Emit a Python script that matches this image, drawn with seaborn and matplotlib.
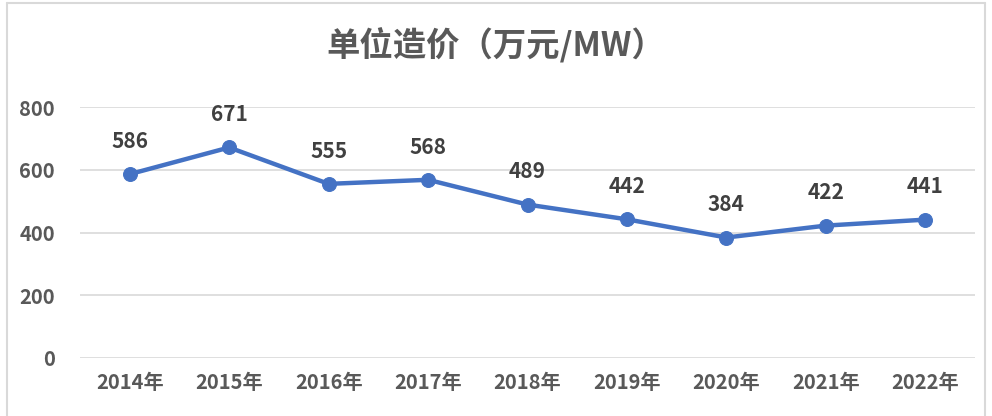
import matplotlib
matplotlib.use('Agg')
import matplotlib.pyplot as plt
import seaborn as sns
import pandas as pd
from matplotlib.lines import Line2D

years = ['2014年', '2015年', '2016年', '2017年', '2018年', '2019年', '2020年', '2021年', '2022年']
cost = [586, 671, 555, 568, 489, 442, 384, 422, 441]
title = '单位造价（万元/MW）'

df = pd.DataFrame({'year': years, 'cost': cost})

sns.set_theme(style='white')
plt.rcParams['font.family'] = ['Noto Sans CJK SC', 'DejaVu Sans']

fig = plt.figure(figsize=(9.92, 4.16), dpi=100)
ax = fig.add_axes([80 / 992, 1 - 358 / 416, 895 / 992, 251 / 416])

x = list(range(len(years)))
sns.lineplot(x=x, y=df['cost'], ax=ax, color='#4472C4', linewidth=3.2,
             marker='o', markersize=10, markeredgecolor='#4472C4')

for xi, v in zip(x, cost):
    ax.annotate(str(v), (xi, v), xytext=(0, 16), textcoords='offset points',
                ha='center', va='bottom', fontsize=15, fontweight='bold', color='#404040')

ax.set_xlim(-0.5, len(years) - 0.5)
ax.set_ylim(0, 800)
ax.set_yticks([0, 200, 400, 600, 800])
ax.set_xticks(x)
ax.set_xticklabels(years)
ax.set_xlabel('')
ax.set_ylabel('')
ax.grid(axis='y', color='#d9d9d9', linewidth=1.2)
ax.set_axisbelow(True)
for s in ax.spines.values():
    s.set_visible(False)
ax.tick_params(axis='both', length=0, labelsize=14.5, labelcolor='#595959')
ax.tick_params(axis='y', pad=18)
ax.tick_params(axis='x', pad=10)
for lbl in ax.get_xticklabels() + ax.get_yticklabels():
    lbl.set_fontweight('bold')

fig.text(0.5, 1 - 46 / 416, title, ha='center', va='center', fontsize=24,
         fontweight='bold', color='#595959')

# outer chart border
bc = '#d9d9d9'
fig.add_artist(Line2D([7 / 992, 7 / 992], [0, 1 - 3 / 416], transform=fig.transFigure, color=bc, lw=1.5))
fig.add_artist(Line2D([7 / 992, 985 / 992], [1 - 3 / 416, 1 - 3 / 416], transform=fig.transFigure, color=bc, lw=1.5))
fig.add_artist(Line2D([985 / 992, 985 / 992], [0, 1 - 3 / 416], transform=fig.transFigure, color=bc, lw=1.5))

fig.savefig('out.png', dpi=100)
